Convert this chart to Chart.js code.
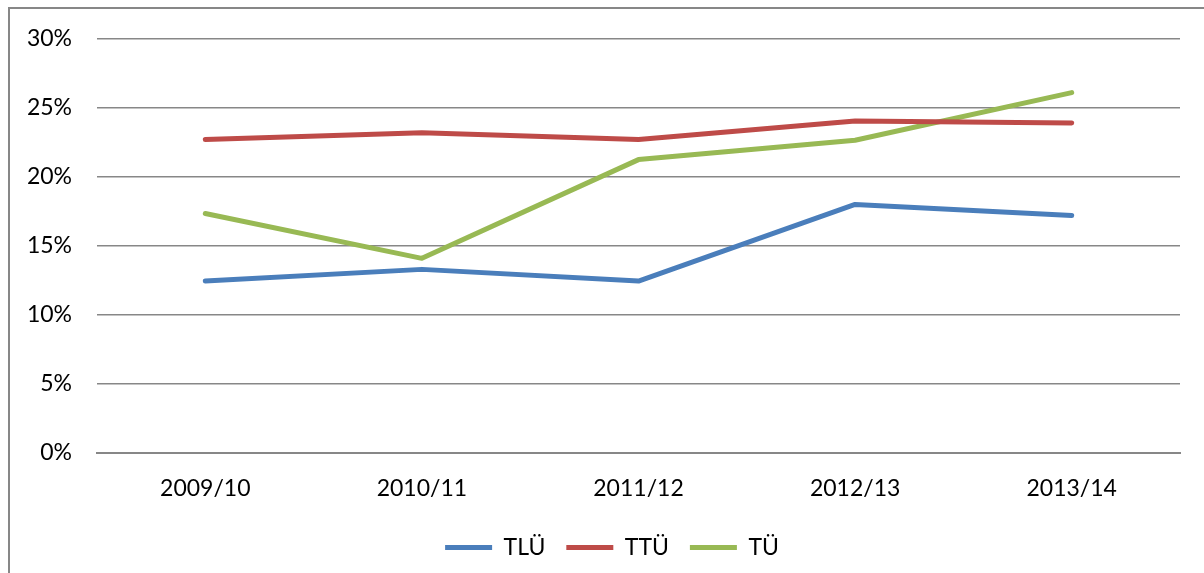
<!DOCTYPE html>
<html>
<head>
<meta charset="utf-8">
<script src="https://cdn.jsdelivr.net/npm/chart.js@4/dist/chart.umd.min.js"></script>
<style>
  html, body { margin: 0; padding: 0; background: #fff; }
  #wrap { width: 1204px; height: 573px; position: relative; }
</style>
</head>
<body>
<div id="wrap"><canvas id="chart" width="1204" height="573"></canvas></div>
<script>
// andmed
const years = ['2009/10', '2010/11', '2011/12', '2012/13', '2013/14'];
const tlu = [12.45, 13.3, 12.45, 18.0, 17.2];
const ttu = [22.7, 23.2, 22.7, 24.05, 23.9];
const tu = [17.35, 14.1, 21.25, 22.65, 26.1];

const FONT = 'Lato, "Open Sans", sans-serif';

// raami joon vasakul ja ülal
const framePlugin = {
    id: 'frame',
    beforeDraw(chart) {
        const ctx = chart.ctx;
        ctx.save();
        ctx.strokeStyle = '#878787';
        ctx.lineWidth = 2;
        ctx.beginPath();
        ctx.moveTo(9, 573);
        ctx.lineTo(9, 8);
        ctx.lineTo(1204, 8);
        ctx.stroke();
        ctx.restore();
    },
    // legend veidi paremale, nagu originaalis
    afterLayout(chart) {
        if (chart.legend) {
            chart.legend.left += 22;
            chart.legend.right += 22;
        }
    }
};

function series(label, data, color) {
    return {
        label: label,
        data: data,
        borderColor: color,
        backgroundColor: color,
        borderWidth: 5,
        borderCapStyle: 'round',
        borderJoinStyle: 'round',
        pointRadius: 0,
        pointHoverRadius: 0,
        tension: 0,
        fill: false
    };
}

new Chart(document.getElementById('chart'), {
    type: 'line',
    data: {
        labels: years,
        datasets: [
            series('TLÜ', tlu, '#4A7EBB'),
            series('TTÜ', ttu, '#BE4B48'),
            series('TÜ', tu, '#98B954')
        ]
    },
    options: {
        responsive: false,
        animation: false,
        layout: { padding: { top: 37, right: 24, left: 0, bottom: 4 } },
        plugins: {
            tooltip: { enabled: false },
            legend: {
                position: 'bottom',
                labels: {
                    usePointStyle: true,
                    pointStyle: 'line',
                    pointStyleWidth: 47,
                    boxHeight: 5,
                    padding: 21,
                    color: '#000',
                    font: { family: FONT, size: 23 }
                }
            }
        },
        scales: {
            x: {
                offset: true,
                grid: { display: false, drawTicks: false },
                border: { display: true, color: '#878787', width: 2 },
                ticks: { color: '#000', padding: 22, font: { family: FONT, size: 23 } },
                afterFit(scale) { scale.height = 62; }
            },
            y: {
                min: 0,
                max: 30,
                grid: { color: '#878787', lineWidth: 1.5, drawTicks: false },
                border: { display: false },
                ticks: {
                    stepSize: 5,
                    padding: 25,
                    color: '#000',
                    font: { family: FONT, size: 23 },
                    callback: v => v + '%'
                },
                afterFit(scale) { scale.width = 97; }
            }
        }
    },
    plugins: [framePlugin]
});
</script>
</body>
</html>
